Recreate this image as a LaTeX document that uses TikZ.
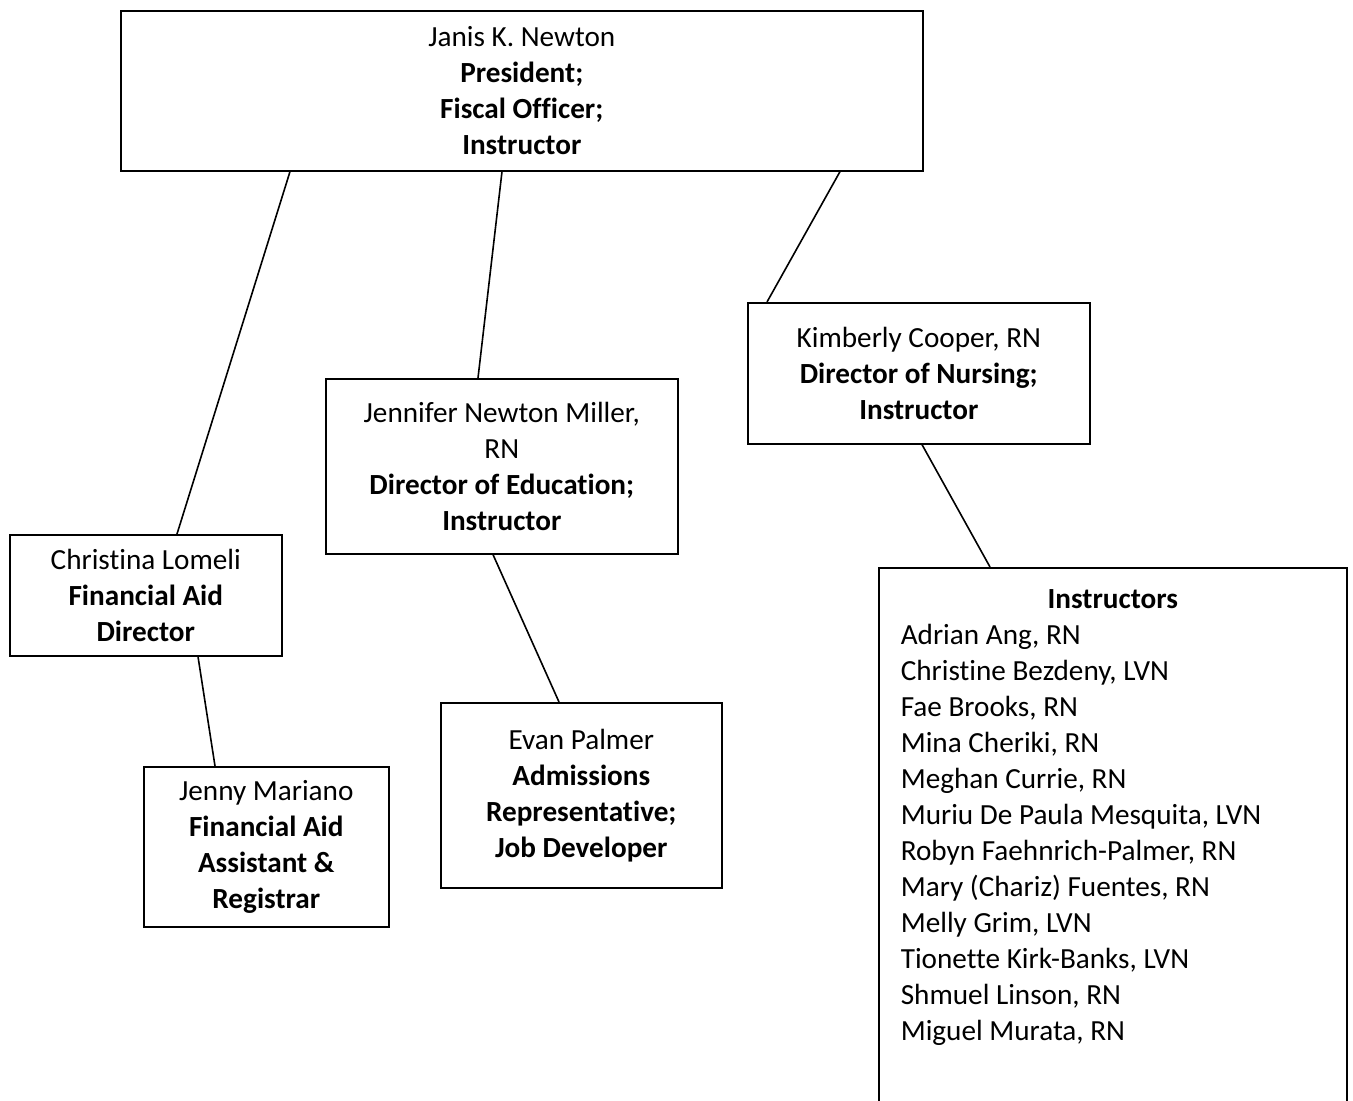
\documentclass[tikz,border=0pt]{standalone}
\usepackage{fontspec}
\setmainfont{Carlito}[Ligatures=NoCommon]

\begin{document}
\begin{tikzpicture}[x=0.5pt,y=-0.5pt,
    box/.style={draw,line width=0.8pt,align=center,inner sep=0pt,anchor=north west,
      font=\fontsize{14.6}{18}\selectfont},
    link/.style={line width=0.8pt}]
    \useasboundingbox (0,0) rectangle (1353,1101);
    \node[box,minimum width=401pt,minimum height=80pt] (newton) at (120,10)
      {Janis K. Newton\\\textbf{President;}\\\textbf{Fiscal Officer;}\\\textbf{Instructor}};
    \node[box,minimum width=171pt,minimum height=70.5pt] (cooper) at (747,302)
      {Kimberly Cooper, RN\\\textbf{Director of Nursing;}\\\textbf{Instructor}};
    \node[box,minimum width=176pt,minimum height=87.5pt] (miller) at (325,378)
      {Jennifer Newton Miller,\\RN\\\textbf{Director of Education;}\\\textbf{Instructor}};
    \node[box,minimum width=136pt,minimum height=60.5pt] (lomeli) at (9,534)
      {Christina Lomeli\\\textbf{Financial Aid}\\\textbf{Director}};
    \node[box,minimum width=122.5pt,minimum height=80pt] (mariano) at (143,766)
      {Jenny Mariano\\\textbf{Financial Aid}\\\textbf{Assistant \&}\\\textbf{Registrar}};
    \node[box,minimum width=140.5pt,minimum height=92.5pt] (palmer) at (440,702)
      {Evan Palmer\\\textbf{Admissions}\\\textbf{Representative;}\\\textbf{Job Developer}};
    \node[box,align=flush left,text width=212pt,inner sep=11pt] (instr) at (878,567)
      {\makebox[\linewidth]{\textbf{Instructors}}\\
       Adrian Ang, RN\\
       Christine Bezdeny, LVN\\
       Fae Brooks, RN\\
       Mina Cheriki, RN\\
       Meghan Currie, RN\\
       Muriu De Paula Mesquita, LVN\\
       Robyn Faehnrich-Palmer, RN\\
       Mary (Chariz) Fuentes, RN\\
       Melly Grim, LVN\\
       Tionette Kirk-Banks, LVN\\
       Shmuel Linson, RN\\
       Miguel Murata, RN\rule[-100pt]{0pt}{0pt}};
    \draw[link] ([xshift=85pt]newton.south west) -- ([xshift=84pt]lomeli.north west);
    \draw[link] ([xshift=191pt]newton.south west) -- ([xshift=76.5pt]miller.north west);
    \draw[link] ([xshift=360pt]newton.south west) -- ([xshift=10pt]cooper.north west);
    \draw[link] ([xshift=94.5pt]lomeli.south west) -- ([xshift=36pt]mariano.north west);
    \draw[link] ([xshift=84pt]miller.south west) -- ([xshift=59.5pt]palmer.north west);
    \draw[link] ([xshift=87.5pt]cooper.south west) -- ([xshift=56pt]instr.north west);
\end{tikzpicture}
\end{document}
